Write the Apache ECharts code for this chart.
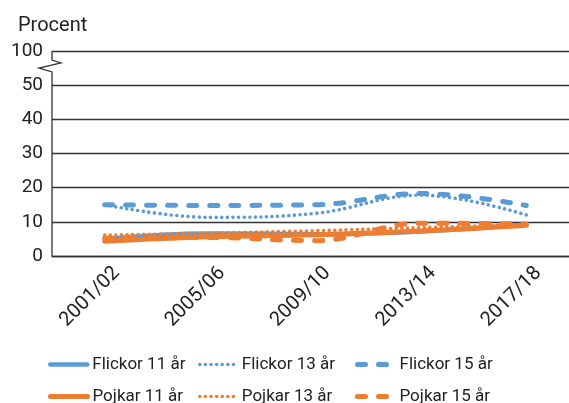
<!DOCTYPE html>
<html>
<head>
<meta charset="utf-8">
<script src="https://cdn.jsdelivr.net/npm/echarts@6/dist/echarts.min.js"></script>
<style>
html,body{margin:0;padding:0;background:#fff}
#chart{width:569px;height:403px}
</style>
</head>
<body>
<div id="chart"></div>
<script>
// data (percent)
const categories=['2001/02','2005/06','2009/10','2013/14','2017/18'];
const flickor11=[5.0,6.6,6.4,7.2,9.2];
const flickor13=[15.0,11.3,12.5,17.8,12.0];
const flickor15=[15.0,14.8,15.0,18.3,14.8];
const pojkar11=[4.3,5.6,6.2,7.3,9.0];
const pojkar13=[6.1,6.7,7.4,8.3,9.2];
const pojkar15=[5.2,5.4,4.5,9.6,9.4];
const yTicks=[0,10,20,30,40,50,60];
const topLabel='100'; // the axis is broken: top tick stands for 100

const blue='#5B9BD5', orange='#ED7D31';
const font='Roboto';
const txt='#222';
const gridLeft=52;

const dotted=[0.01,5.6];
const dashed=[8,13];

function line(name,data,color,type,width){
    return {
        name:name,
        type:'line',
        data:data,
        smooth:0.4,
        symbol:'none',
        itemStyle:{color:color},
        lineStyle:{color:color,width:width,type:type,cap:'round'},
        emphasis:{disabled:true}
    };
}

const series=[
    line('Flickor 11 år',flickor11,blue,'solid',4.5),
    line('Flickor 13 år',flickor13,blue,dotted,3.6),
    line('Flickor 15 år',flickor15,blue,dashed,5),
    line('Pojkar 11 år',pojkar11,orange,'solid',5),
    line('Pojkar 13 år',pojkar13,orange,dotted,3.6),
    line('Pojkar 15 år',pojkar15,orange,dashed,5)
];

const legendLeft=[48,198,355];
const legendTop=[356,388];
const legends=series.map((s,i)=>({
    data:[s.name],
    left:legendLeft[i%3],
    top:legendTop[Math.floor(i/3)],
    itemWidth:37,
    itemHeight:14,
    itemGap:0,
    selectedMode:false,
    padding:0,
    itemStyle:{opacity:0},
    lineStyle:{width:s.lineStyle.width,type:s.lineStyle.type,cap:'round'},
    textStyle:{fontFamily:font,fontSize:17,color:txt}
}));

const myChart=echarts.init(document.getElementById('chart'));
const option={
    animation:false,
    title:{
        text:'Procent',
        left:18,top:16,padding:0,
        textStyle:{fontFamily:font,fontSize:20,fontWeight:'normal',color:txt}
    },
    legend:legends,
    grid:{left:gridLeft,right:-10,top:51,bottom:147,outerBoundsMode:'none'},
    xAxis:{
        type:'category',
        data:categories,
        boundaryGap:true,
        axisTick:{show:false},
        axisLine:{lineStyle:{color:'#333',width:1.3}},
        axisLabel:{rotate:45,margin:2,verticalAlign:'top',lineHeight:34,
            fontFamily:font,fontSize:20,color:txt,interval:0}
    },
    yAxis:{
        type:'value',
        min:yTicks[0],
        max:yTicks[yTicks.length-1],
        interval:10,
        axisLine:{show:false},
        axisTick:{show:false},
        splitLine:{lineStyle:{color:'#333',width:1.3}},
        axisLabel:{
            margin:9,fontFamily:font,fontSize:19,color:txt,
            formatter:v=>v===yTicks[yTicks.length-1]?topLabel:String(v)
        }
    },
    series:series
};
myChart.setOption(option);

// y axis line with the break zigzag
const yTop=myChart.convertToPixel({yAxisIndex:0},yTicks[yTicks.length-1]);
const yBot=myChart.convertToPixel({yAxisIndex:0},0);
const x=gridLeft;
myChart.setOption({
    graphic:[{
        type:'polyline',
        silent:true,
        shape:{points:[[x,yTop],[x,yTop+9],[x+9,yTop+12],[x-13,yTop+17],[x,yTop+21],[x,yBot]]},
        style:{stroke:'#333',lineWidth:1.3,fill:null}
    }]
});
</script>
</body>
</html>
